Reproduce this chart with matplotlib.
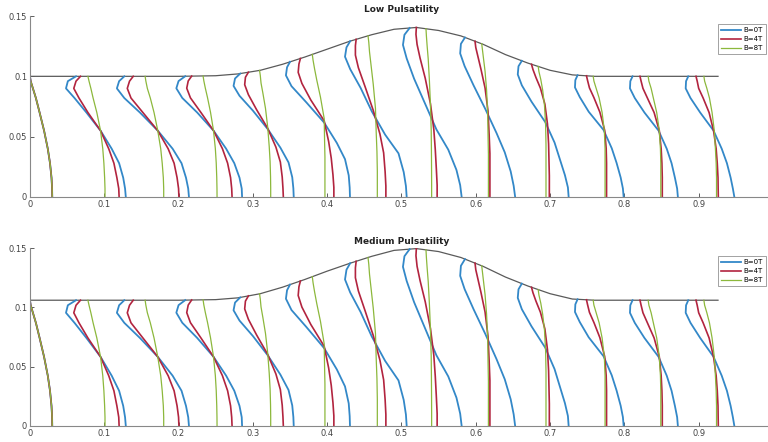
import numpy as np
import matplotlib
matplotlib.use("Agg")
import matplotlib.pyplot as plt
from matplotlib.ticker import FormatStrFormatter

# wall of the channel (x, height)
wall_x = [0, 0.20, 0.25, 0.28, 0.31, 0.34, 0.37, 0.40, 0.43, 0.46, 0.49, 0.52,
          0.55, 0.58, 0.61, 0.64, 0.67, 0.70, 0.73, 0.76, 0.926]
wall_low = [0.1, 0.1, 0.1005, 0.102, 0.105, 0.110, 0.116, 0.1225, 0.129, 0.1345,
            0.139, 0.1405, 0.138, 0.1335, 0.1265, 0.118, 0.111, 0.105, 0.1012, 0.1, 0.1]
wall_med = [0.106, 0.106, 0.1065, 0.108, 0.1115, 0.117, 0.1235, 0.1305, 0.137, 0.143,
            0.148, 0.1495, 0.147, 0.142, 0.1345, 0.1255, 0.118, 0.1115, 0.107, 0.106, 0.106]

# fraction of the local height where the profiles were read (wall -> centre)
eta = [1.0, 0.96, 0.9, 0.82, 0.7, 0.55, 0.4, 0.28, 0.16, 0.07, 0.0]

# x position of each velocity profile at those heights, 13 stations
prof_b0 = [
    [0.000, 0.001, 0.004, 0.008, 0.013, 0.019, 0.024, 0.027, 0.029, 0.0298, 0.030],
    [0.062, 0.051, 0.0485, 0.060, 0.076, 0.095, 0.110, 0.120, 0.1255, 0.128, 0.129],
    [0.127, 0.120, 0.117, 0.127, 0.148, 0.172, 0.192, 0.204, 0.210, 0.213, 0.214],
    [0.209, 0.200, 0.197, 0.205, 0.225, 0.247, 0.264, 0.275, 0.282, 0.285, 0.2855],
    [0.283, 0.276, 0.274, 0.282, 0.300, 0.320, 0.337, 0.348, 0.353, 0.3545, 0.355],
    [0.350, 0.346, 0.3445, 0.352, 0.372, 0.396, 0.413, 0.424, 0.429, 0.4303, 0.4307],
    [0.431, 0.426, 0.424, 0.431, 0.445, 0.460, 0.478, 0.496, 0.503, 0.506, 0.507],
    [0.511, 0.504, 0.502, 0.507, 0.517, 0.532, 0.547, 0.563, 0.574, 0.579, 0.581],
    [0.5855, 0.580, 0.579, 0.585, 0.597, 0.613, 0.628, 0.639, 0.647, 0.651, 0.653],
    [0.662, 0.6575, 0.6565, 0.662, 0.675, 0.6935, 0.706, 0.713, 0.720, 0.724, 0.725],
    [0.737, 0.734, 0.7335, 0.740, 0.752, 0.772, 0.783, 0.7895, 0.795, 0.798, 0.799],
    [0.811, 0.808, 0.8075, 0.814, 0.827, 0.846, 0.857, 0.8635, 0.868, 0.871, 0.872],
    [0.886, 0.883, 0.8825, 0.889, 0.902, 0.920, 0.931, 0.938, 0.943, 0.946, 0.948],
]
prof_b4 = [
    [0.000, 0.001, 0.004, 0.008, 0.013, 0.019, 0.024, 0.027, 0.029, 0.0298, 0.030],
    [0.068, 0.062, 0.059, 0.066, 0.078, 0.095, 0.106, 0.113, 0.117, 0.1195, 0.120],
    [0.139, 0.134, 0.131, 0.136, 0.152, 0.172, 0.186, 0.194, 0.198, 0.200, 0.2005],
    [0.2176, 0.213, 0.211, 0.216, 0.230, 0.247, 0.259, 0.266, 0.270, 0.2715, 0.272],
    [0.294, 0.290, 0.289, 0.294, 0.305, 0.320, 0.331, 0.337, 0.3395, 0.3405, 0.341],
    [0.364, 0.362, 0.361, 0.366, 0.378, 0.396, 0.402, 0.4055, 0.4078, 0.409, 0.409],
    [0.439, 0.438, 0.438, 0.442, 0.451, 0.462, 0.471, 0.476, 0.478, 0.479, 0.479],
    [0.520, 0.5195, 0.521, 0.525, 0.532, 0.539, 0.5435, 0.5455, 0.547, 0.548, 0.548],
    [0.599, 0.600, 0.603, 0.607, 0.6125, 0.6165, 0.618, 0.619, 0.619, 0.619, 0.619],
    [0.675, 0.677, 0.681, 0.687, 0.693, 0.6965, 0.698, 0.6985, 0.699, 0.699, 0.699],
    [0.749, 0.7505, 0.753, 0.759, 0.767, 0.7735, 0.7755, 0.776, 0.776, 0.776, 0.776],
    [0.821, 0.8225, 0.825, 0.831, 0.840, 0.847, 0.8495, 0.8505, 0.851, 0.851, 0.851],
    [0.8964, 0.898, 0.900, 0.906, 0.914, 0.920, 0.9235, 0.925, 0.926, 0.9262, 0.9264],
]
prof_b8 = [
    [0.000, 0.001, 0.004, 0.008, 0.013, 0.019, 0.024, 0.027, 0.029, 0.0298, 0.030],
    [0.078, 0.0795, 0.082, 0.085, 0.090, 0.095, 0.098, 0.0995, 0.1005, 0.101, 0.101],
    [0.155, 0.156, 0.158, 0.162, 0.167, 0.172, 0.176, 0.178, 0.1795, 0.180, 0.180],
    [0.233, 0.234, 0.236, 0.239, 0.243, 0.247, 0.2495, 0.2507, 0.2514, 0.2517, 0.2518],
    [0.309, 0.310, 0.311, 0.3135, 0.317, 0.320, 0.322, 0.3232, 0.3238, 0.324, 0.324],
    [0.380, 0.381, 0.383, 0.386, 0.391, 0.396, 0.3965, 0.397, 0.397, 0.397, 0.397],
    [0.455, 0.456, 0.457, 0.459, 0.462, 0.465, 0.466, 0.467, 0.4675, 0.4675, 0.4675],
    [0.533, 0.5335, 0.5345, 0.536, 0.5375, 0.539, 0.540, 0.5403, 0.5405, 0.5406, 0.5406],
    [0.608, 0.609, 0.6105, 0.6125, 0.6145, 0.616, 0.6165, 0.617, 0.617, 0.617, 0.617],
    [0.684, 0.685, 0.6875, 0.690, 0.6925, 0.694, 0.6945, 0.6945, 0.6945, 0.6945, 0.6945],
    [0.758, 0.759, 0.762, 0.766, 0.770, 0.773, 0.774, 0.774, 0.774, 0.774, 0.774],
    [0.832, 0.833, 0.836, 0.839, 0.8435, 0.847, 0.8485, 0.849, 0.849, 0.849, 0.849],
    [0.907, 0.908, 0.911, 0.9145, 0.918, 0.921, 0.9225, 0.9235, 0.924, 0.924, 0.924],
]

labels = ["B=0T", "B=4T", "B=8T"]
colors = ["#3388C8", "#B2243F", "#8CB83C"]
widths = [1.3, 1.2, 0.9]

fig = plt.figure(figsize=(7.68, 4.42), dpi=100)
ax_low = fig.add_axes([0.039, 0.5543, 0.9675, 0.4095])
ax_med = fig.add_axes([0.039, 0.0362, 0.9675, 0.4027])

panels = [
    (ax_low, wall_low, "Low Pulsatility"),
    (ax_med, wall_med, "Medium Pulsatility"),
]

for ax, wall, title in panels:
    ax.plot(wall_x, wall, color="#5a5a5a", lw=0.9)
    for prof, lab, c, w in zip([prof_b0, prof_b4, prof_b8], labels, colors, widths):
        for i, xs in enumerate(prof):
            # each profile spans from the centre line up to the wall above its top point
            h = np.interp(xs[0], wall_x, wall)
            ax.plot(xs, np.array(eta) * h, color=c, lw=w,
                    label=lab if i == 0 else None)

    ax.set_xlim(0, 1)
    ax.set_ylim(0, 0.15)
    ax.set_xticks(np.arange(0, 1.0, 0.1))
    ax.set_yticks([0, 0.05, 0.1, 0.15])
    ax.xaxis.set_major_formatter(FormatStrFormatter("%g"))
    ax.yaxis.set_major_formatter(FormatStrFormatter("%g"))
    ax.tick_params(direction="in", length=3, width=0.6, labelsize=6,
                   colors="#444444", pad=2)
    for s in ["top", "right"]:
        ax.spines[s].set_visible(False)
    for s in ["left", "bottom"]:
        ax.spines[s].set_color("#888888")
        ax.spines[s].set_linewidth(0.8)
    ax.set_title(title, fontsize=6.5, fontweight="bold", pad=3, color="#222222")
    leg = ax.legend(loc="upper right", bbox_to_anchor=(0.995, 0.975), fontsize=5,
                    handlelength=2.8, frameon=True, fancybox=False, borderpad=0.45,
                    labelspacing=0.45, handletextpad=0.4)
    leg.get_frame().set_edgecolor("#777777")
    leg.get_frame().set_linewidth(0.6)

plt.savefig("out.png", dpi=100)
